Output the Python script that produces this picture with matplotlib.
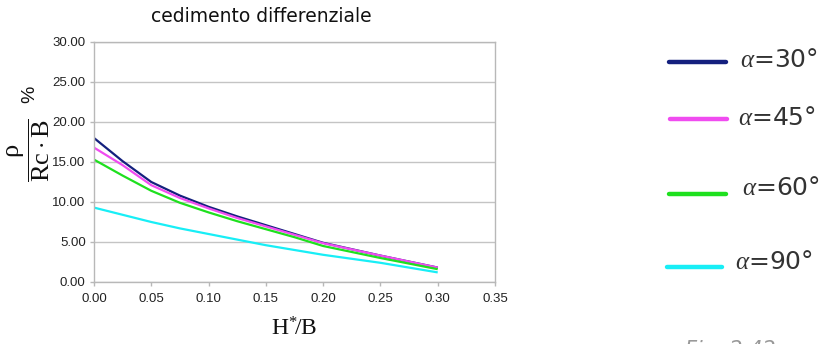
import numpy as np
import matplotlib
matplotlib.use("Agg")
import matplotlib.pyplot as plt
from matplotlib.lines import Line2D

# values
h_over_b = [0.0, 0.025, 0.05, 0.075, 0.10, 0.125, 0.15, 0.175, 0.20, 0.25, 0.30]
alpha_30 = [18.0, 15.1, 12.5, 10.8, 9.4, 8.2, 7.1, 6.0, 4.9, 3.3, 1.8]
alpha_45 = [16.8, 14.6, 12.1, 10.5, 9.2, 8.0, 6.95, 5.9, 4.85, 3.3, 1.8]
alpha_60 = [15.3, 13.3, 11.4, 9.9, 8.7, 7.6, 6.6, 5.6, 4.5, 3.0, 1.6]
alpha_90 = [9.3, 8.4, 7.5, 6.7, 6.0, 5.3, 4.6, 4.0, 3.4, 2.4, 1.2]

series = [alpha_30, alpha_45, alpha_60, alpha_90]
labels = ["30", "45", "60", "90"]
colors = ["#14207e", "#f04cf0", "#1ee01e", "#18eef6"]

x_ticks = [0.0, 0.05, 0.10, 0.15, 0.20, 0.25, 0.30, 0.35]
y_ticks = [0, 5, 10, 15, 20, 25, 30]

plt.rcParams["font.family"] = ["DejaVu Sans"]
plt.rcParams["mathtext.fontset"] = "custom"
plt.rcParams["mathtext.rm"] = "Liberation Serif"
plt.rcParams["mathtext.it"] = "Liberation Serif:italic"
plt.rcParams["mathtext.bf"] = "Liberation Serif:bold"

W, H = 823, 344
fig = plt.figure(figsize=(W / 100, H / 100), dpi=100)
ax = fig.add_axes([94 / W, 62 / H, 401 / W, 240 / H])

for ys, c in zip(series, colors):
    ax.plot(h_over_b, ys, color=c, lw=1.6, solid_capstyle="butt")

ax.set_xlim(0, 0.35)
ax.set_ylim(0, 30)
ax.set_xticks(x_ticks)
ax.set_xticklabels([f"{v:.2f}" for v in x_ticks])
ax.set_yticks(y_ticks)
ax.set_yticklabels([f"{v:.2f}" for v in y_ticks])
for lab in ax.get_xticklabels() + ax.get_yticklabels():
    lab.set_family("Liberation Sans")
    lab.set_fontsize(9.5)
    lab.set_color("#222222")

ax.yaxis.grid(True, color="#c4c4c4", lw=1)
ax.set_axisbelow(True)
for s in ax.spines.values():
    s.set_color("#b8b8b8")
    s.set_linewidth(1)
ax.tick_params(axis="both", color="#b8b8b8", length=3, width=1)
ax.tick_params(axis="x", pad=5)
ax.tick_params(axis="y", pad=3)

ax.set_xlabel(r"$\mathrm{H}^{*}\!/\mathrm{B}$", fontsize=17, labelpad=8, color="#111111")

# title, off-centre like the original
fig.text(261 / W, 1 - 17 / H, "cedimento differenziale", ha="center", va="center",
         fontsize=13.5, color="#111111")

# y label: rho / (Rc . B)  %
fig.text(29 / W, 1 - 150 / H, r"$\dfrac{\mathrm{ρ}}{\mathrm{Rc}\cdot\mathrm{B}}$", rotation=90,
         ha="center", va="center", fontsize=19, color="#111111")
fig.text(29.5 / W, 1 - 94 / H, "%", rotation=90, ha="center", va="center",
         fontsize=14, family="Liberation Sans", color="#111111")

# legend on the right
key_x = [(669, 726), (670, 727), (669, 726), (667, 722)]
key_y = [62, 119, 194, 267]
txt_x = [740, 738, 742, 735]
txt_y = [60, 118, 188, 262]
for c, lab, (x0, x1), ky, tx, ty in zip(colors, labels, key_x, key_y, txt_x, txt_y):
    fig.add_artist(Line2D([x0 / W, x1 / W], [1 - ky / H, 1 - ky / H], color=c, lw=3.2,
                          solid_capstyle="round", transform=fig.transFigure))
    fig.text(tx / W, 1 - ty / H, r"$\alpha$=" + lab + "°", ha="left", va="center",
             fontsize=18, color="#333333")

fig.text(685 / W, 1 - 340 / H, "Fig. 2.42", ha="left", va="top", fontsize=15,
         style="italic", color="#999999")

fig.savefig("out.png", dpi=100)
